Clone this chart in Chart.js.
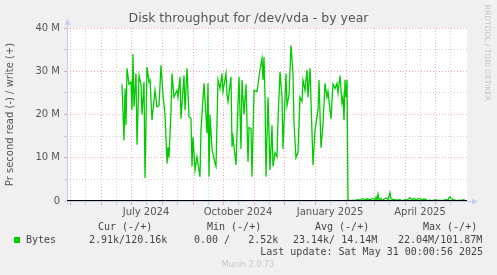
<!DOCTYPE html>
<html>
<head>
<meta charset="utf-8">
<script src="https://cdn.jsdelivr.net/npm/chart.js@4.4.1/dist/chart.umd.min.js"></script>
<style>
body { margin: 0; background: #f0f0f0; }
</style>
</head>
<body>
<canvas id="diskChart" width="497" height="275"></canvas>
<script>
// days counted from 1 May 2024, values in MB/s (write, shown as +)
var writeDays = [52, 54, 55, 56, 57, 59, 61, 62, 63, 64, 66, 67, 69, 71, 72, 74, 75, 77, 79, 80,
  82, 85, 87, 89, 91, 93, 95, 97, 98, 99, 101, 102, 104, 107, 108, 110, 111, 114, 115, 117,
  119, 121, 122, 123, 125, 127, 130, 131, 134, 137, 138, 139, 140, 142, 145, 146, 148, 150, 152, 153,
  156, 157, 158, 161, 162, 163, 166, 168, 169, 171, 172, 174, 176, 178, 179, 181, 182, 184, 187, 190,
  192, 193, 194, 195, 196, 198, 200, 202, 203, 205, 207, 208, 210, 212, 213, 216, 217, 219, 221, 223,
  224, 226, 228, 230, 232, 233, 235, 237, 238, 240, 243, 245, 248, 249, 251, 253, 255, 257, 258, 260,
  261, 263, 265, 267, 268, 270, 272, 273, 274, 275, 276, 277, 278,
  279, 281, 283, 285, 287, 289, 291, 293, 295, 297, 299, 301, 303, 305, 306, 307, 308, 309, 311, 312,
  314, 316, 318, 320, 321, 323, 325, 327, 329, 331, 333, 335, 337, 339, 340, 342, 344, 346, 348, 350,
  352, 354, 356, 358, 360, 362, 364, 366, 368, 370, 372, 374, 376, 378, 379, 380, 381, 383, 385, 387,
  389, 391, 393, 395];
var writeMB = [27, 14, 26, 17.5, 30.7, 27, 27.5, 21, 34, 21.8, 29.5, 13, 29, 27, 20, 27.5, 5.3, 31, 27.5, 28,
  18.7, 25.6, 21.8, 22, 31.4, 24.5, 20, 8.7, 12.5, 10, 21, 29.5, 24, 25.6, 24, 28.7, 19, 29, 21, 30.7,
  19.5, 19, 8, 14.8, 7.2, 10.2, 5.6, 16.4, 27.2, 15.6, 27.2, 5.6, 20, 12, 8.7, 8, 28, 26, 29.5, 25.3,
  29.5, 24.5, 23, 28.7, 12.5, 14.8, 8.3, 22.7, 28.7, 12, 28, 20, 27, 9, 17, 16.8, 5.6, 25.6, 25.3, 30.3,
  33, 28, 33.3, 24, 5.6, 24, 7.2, 17.5, 8, 11.2, 10.2, 18.7, 29.8, 24, 12, 29.5, 22, 24.5, 36, 29.5,
  17.8, 10, 11.2, 24, 23, 28, 25.6, 30.3, 24, 30.7, 8.3, 16.4, 21, 28, 12.3, 17.8, 27.2, 24, 25.3, 21,
  19, 27, 26, 27.2, 25, 29, 22.7, 24, 18.7, 28, 24, 28, 0.3,
  0.2, 0.1, 0.2, 0.1, 0.3, 0.2, 0.4, 0.6, 0.2, 0.5, 0.3, 0.4, 0.6, 0.3, 0.9, 0.2, 1.6, 0.3, 0.6, 0.1,
  0.4, 0.7, 0.3, 1.9, 0.5, 0.4, 0.3, 0.2, 0.3, 0.2, 0.1, 0.3, 0.2, 0.6, 0.8, 0.3, 0.6, 0.2, 0.5, 0.6,
  0.2, 0.5, 0.3, 0.1, 0.2, 0.1, 0.2, 0.3, 0.1, 0.2, 0.1, 0.2, 0.3, 0.2, 0.8, 1.0, 0.6, 0.3, 0.2, 0.1,
  0.2, 0.1, 0.3, 0.2];

var xMin = -3, xMax = 397;
var monthStarts = [0, 31, 61, 92, 123, 153, 184, 214, 245, 276, 304, 335, 365];
var midMonths = [15, 46, 76, 107, 138, 168, 199, 229, 260, 291, 319, 350, 380];
var xLabelDays = [76, 168, 260, 350];
var xLabels = ['July 2024', 'October 2024', 'January 2025', 'April 2025'];
var yTicks = [0, 10, 20, 30, 40];
var yTickLabels = ['0', '10 M', '20 M', '30 M', '40 M'];

var legendHead = ['Cur (-/+)', 'Min (-/+)', 'Avg (-/+)', 'Max (-/+)'];
var legendVals = ['2.91k/120.16k', '0.00 /   2.52k', '23.14k/ 14.14M', '22.04M/101.87M'];

var MGRID = 'rgba(235,90,90,0.5)';
var GRID = 'rgba(140,140,140,0.4)';
var AXIS = '#c4cdf4';
var FONT = 'DejaVu Sans';

var writeData = writeDays.map(function (d, i) { return { x: d, y: writeMB[i] }; });

var munin = {
  id: 'munin',
  beforeDraw: function (chart) {
    var ctx = chart.ctx, a = chart.chartArea;
    ctx.save();
    ctx.fillStyle = '#ffffff';
    ctx.fillRect(a.left, a.top, a.right - a.left, a.bottom - a.top);
    ctx.restore();
  },
  beforeDatasetsDraw: function (chart) {
    var ctx = chart.ctx, a = chart.chartArea;
    ctx.save();
    ctx.strokeStyle = AXIS;
    ctx.fillStyle = AXIS;
    ctx.lineWidth = 1;
    ctx.beginPath();
    ctx.moveTo(a.left + 0.5, a.bottom + 4);
    ctx.lineTo(a.left + 0.5, a.top - 4);
    ctx.moveTo(a.left - 3, a.bottom + 0.5);
    ctx.lineTo(a.right + 6, a.bottom + 0.5);
    ctx.stroke();
    ctx.beginPath();
    ctx.moveTo(a.left - 2.5, a.top - 3);
    ctx.lineTo(a.left + 3.5, a.top - 3);
    ctx.lineTo(a.left + 0.5, a.top - 9);
    ctx.fill();
    ctx.beginPath();
    ctx.moveTo(a.right + 5, a.bottom - 2.5);
    ctx.lineTo(a.right + 5, a.bottom + 3.5);
    ctx.lineTo(a.right + 11, a.bottom + 0.5);
    ctx.fill();
    ctx.restore();
  },
  afterDraw: function (chart) {
    var ctx = chart.ctx;
    ctx.save();
    ctx.textBaseline = 'middle';
    ctx.font = '10px "DejaVu Sans Mono"';
    ctx.fillStyle = '#444';
    var headX = [98, 207, 315, 423];
    var valX = [89, 194, 293, 398];
    for (var i = 0; i < 4; i++) {
      ctx.fillText(legendHead[i], headX[i], 227);
      ctx.fillText(legendVals[i], valX[i], 240);
    }
    ctx.fillStyle = '#00cc00';
    ctx.fillRect(14, 237, 6, 6);
    ctx.fillStyle = '#444';
    ctx.fillText('Bytes', 26, 240);
    ctx.textAlign = 'right';
    ctx.fillText('Last update: Sat May 31 00:00:56 2025', 483, 252);
    ctx.textAlign = 'center';
    ctx.fillStyle = '#c8c8c8';
    ctx.font = '8px ' + FONT;
    ctx.fillText('Munin 2.0.73', 248, 265);
    ctx.translate(487, 53);
    ctx.rotate(Math.PI / 2);
    ctx.font = '7.5px ' + FONT;
    ctx.fillStyle = '#c4c4c4';
    ctx.fillText('RRDTOOL / TOBI OETIKER', 0, 0);
    ctx.restore();
  }
};

new Chart(document.getElementById('diskChart'), {
  type: 'line',
  data: {
    datasets: [{
      data: [{ x: xMin, y: 0 }, { x: xMax, y: 0 }],
      borderColor: '#000000',
      borderWidth: 2,
      pointRadius: 0
    }, {
      label: 'Bytes',
      data: writeData,
      borderColor: '#00cc00',
      borderWidth: 1.3,
      pointRadius: 0,
      tension: 0,
      fill: false
    }]
  },
  options: {
    responsive: false,
    animation: false,
    layout: { padding: 0 },
    plugins: {
      legend: { display: false },
      tooltip: { enabled: false },
      title: {
        display: true,
        text: 'Disk throughput for /dev/vda - by year',
        color: '#555',
        font: { family: FONT, size: 12.5, weight: 'normal' },
        padding: { top: 11.5, bottom: 1.5 }
      }
    },
    scales: {
      x: {
        type: 'linear',
        min: xMin,
        max: xMax,
        afterBuildTicks: function (s) {
          s.ticks = monthStarts.concat(midMonths).sort(function (a, b) { return a - b; })
            .map(function (v) { return { value: v }; });
        },
        afterFit: function (s) { s.height = 74; },
        grid: {
          color: function (c) { return monthStarts.indexOf(c.tick.value) >= 0 ? MGRID : GRID; },
          tickLength: 4
        },
        border: { display: false, dash: [1, 2] },
        ticks: {
          autoSkip: false,
          maxRotation: 0,
          padding: 1,
          color: '#555',
          font: { family: FONT, size: 10 },
          callback: function (v) {
            var k = xLabelDays.indexOf(v);
            return k >= 0 ? xLabels[k] : '';
          }
        }
      },
      y: {
        min: 0,
        max: 40,
        afterFit: function (s) { s.width = 67; },
        title: {
          display: true,
          text: 'Pr second read (-) / write (+)',
          color: '#555',
          font: { family: FONT, size: 10 },
          padding: { top: 4, bottom: 0 }
        },
        grid: {
          color: function (c) { return c.tick.value % 10 === 0 ? MGRID : GRID; },
          tickLength: 3
        },
        border: { display: false, dash: [1, 2] },
        ticks: {
          stepSize: 2.5,
          padding: 4,
          color: '#555',
          font: { family: FONT, size: 10 },
          callback: function (v) {
            var k = yTicks.indexOf(v);
            return k >= 0 ? yTickLabels[k] : '';
          }
        }
      },
      // empty right margin, keeps the title centred on the whole image
      yRight: {
        position: 'right',
        afterFit: function (s) { s.width = 30; },
        grid: { display: false },
        ticks: { display: false },
        border: { display: false }
      }
    }
  },
  plugins: [munin]
});
</script>
</body>
</html>
